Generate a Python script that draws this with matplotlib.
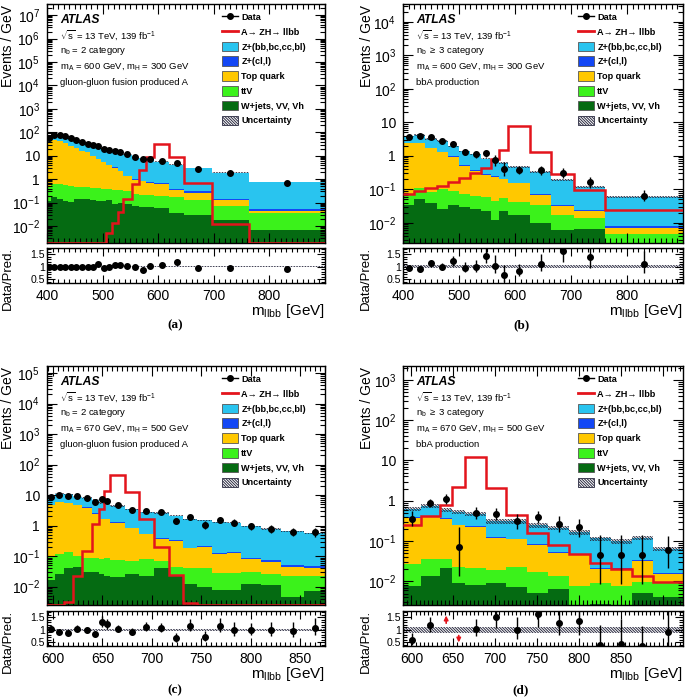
import numpy as np
import matplotlib
matplotlib.use("Agg")
import matplotlib.pyplot as plt
from matplotlib.ticker import LogLocator, NullFormatter, FuncFormatter, MultipleLocator, FixedLocator
from matplotlib.lines import Line2D
from matplotlib.patches import Patch

plt.rcParams['font.family'] = ['Liberation Sans', 'DejaVu Sans']
plt.rcParams['mathtext.fontset'] = 'custom'
plt.rcParams['mathtext.rm'] = 'Liberation Sans'
plt.rcParams['mathtext.it'] = 'Liberation Sans:italic'
plt.rcParams['mathtext.bf'] = 'Liberation Sans:bold'
plt.rcParams['hatch.linewidth'] = 0.7

# ---------------- data: panel (a) ----------------
a_edges = [400, 408, 418, 428, 438, 448, 458, 468, 478, 488, 497, 507, 517, 527, 537, 552, 566, 578, 593, 620, 647, 696, 764, 900]
a_data = [56, 80, 78, 70, 58, 47, 38, 32, 29, 27, 19, 17, 16, 14, 11.5, 9.2, 7.0, 7.0, 6.0, 5.0, 2.8, 1.8, 0.70]
a_wjets = [0.12, 0.17, 0.15, 0.12, 0.11, 0.14, 0.15, 0.14, 0.13, 0.12, 0.12, 0.13, 0.09, 0.10, 0.085, 0.07, 0.065, 0.065, 0.06, 0.035, 0.03, 0.018, 0.0065]
a_ttv = [0.38, 0.45, 0.45, 0.43, 0.39, 0.33, 0.31, 0.31, 0.31, 0.30, 0.28, 0.25, 0.27, 0.24, 0.215, 0.17, 0.155, 0.145, 0.14, 0.145, 0.10, 0.052, 0.028]
a_top = [37.5, 44.4, 40.4, 33.5, 26.5, 20.5, 16.0, 13.5, 9.0, 6.8, 5.1, 3.5, 2.7, 1.9, 1.05, 0.73, 0.60, 0.48, 0.42, 0.17, 0.14, 0.06, 0.011]
a_zl = [0.5, 0.6, 0.6, 0.5, 0.45, 0.4, 0.35, 0.3, 0.25, 0.22, 0.2, 0.16, 0.14, 0.11, 0.09, 0.07, 0.06, 0.06, 0.07, 0.05, 0.04, 0.02, 0.009]
a_zhf = [18.5, 34.4, 36.4, 35.5, 31.0, 26.6, 22.0, 18.3, 19.3, 16.6, 14.7, 13.4, 11.9, 10.8, 9.8, 8.2, 7.2, 6.0, 4.9, 3.8, 2.7, 1.75, 0.70]
a_signal = [0, 0, 0, 0, 0, 0, 0, 0, 0, 0, 0, 0.005, 0.013, 0.04, 0.14, 0.6, 2.5, 9.0, 33, 9.3, 0.7, 0.012, 0]
a_unc = 0.03
a_xlabels = [400, 500, 600, 700, 800]

# ---------------- data: panel (b) ----------------
b_edges = [400, 420, 440, 460, 480, 500, 520, 540, 557, 572, 587, 627, 665, 706, 761, 900]
b_data = [3.6, 3.8, 3.6, 2.8, 2.3, 1.3, 1.1, 1.2, 0.73, 0.40, 0.38, 0.37, 0.31, 0.16, 0.065]
b_wjets = [0.035, 0.05, 0.04, 0.026, 0.035, 0.03, 0.026, 0.022, 0.012, 0.022, 0.017, 0.01, 0.006, 0.0065, 0.001]
b_ttv = [0.04, 0.06, 0.045, 0.074, 0.055, 0.045, 0.039, 0.036, 0.033, 0.033, 0.026, 0.023, 0.011, 0.0075, 0.0035]
b_top = [2.33, 2.29, 1.6, 1.2, 0.86, 0.43, 0.285, 0.21, 0.195, 0.145, 0.107, 0.037, 0.014, 0.008, 0.0025]
b_zl = [0.05, 0.05, 0.04, 0.03, 0.02, 0.015, 0.015, 0.01, 0.008, 0.007, 0.005, 0.004, 0.002, 0.0015, 0.0008]
b_zhf = [1.35, 1.75, 1.46, 1.47, 0.93, 0.835, 0.735, 0.55, 0.45, 0.39, 0.305, 0.256, 0.157, 0.0915, 0.050]
b_signal = [0.075, 0.087, 0.11, 0.13, 0.17, 0.215, 0.30, 0.44, 0.78, 1.5, 7.8, 1.28, 0.28, 0.095, 0.0245]
b_unc = 0.06
b_xlabels = [400, 500, 600, 700, 800]

# ---------------- data: panel (c) ----------------
c_edges = [594, 602, 611, 620, 629, 639, 647, 652, 658, 673, 687, 702, 717, 731, 746, 761, 776, 790, 810, 831, 854, 875]
c_data = [8.8, 10, 9.3, 9.3, 7.8, 5.8, 7.2, 6.3, 4.6, 3.2, 3.0, 2.8, 1.42, 1.86, 1.06, 1.5, 1.24, 0.95, 0.78, 0.63, 0.6]
c_wjets = [0.017, 0.025, 0.04, 0.045, 0.03, 0.03, 0.025, 0.022, 0.02, 0.025, 0.022, 0.042, 0.022, 0.012, 0.01, 0.008, 0.008, 0.012, 0.011, 0.0045, 0.007]
c_ttv = [0.083, 0.095, 0.1, 0.055, 0.06, 0.055, 0.055, 0.063, 0.055, 0.045, 0.058, 0.028, 0.023, 0.028, 0.03, 0.02, 0.02, 0.018, 0.014, 0.0175, 0.015]
c_top = [4.7, 5.7, 5.4, 4.7, 3.8, 2.37, 1.52, 1.5, 1.17, 0.76, 0.44, 0.3, 0.275, 0.14, 0.16, 0.087, 0.097, 0.049, 0.041, 0.023, 0.019]
c_zl = [0.1, 0.1, 0.09, 0.08, 0.07, 0.05, 0.04, 0.04, 0.03, 0.025, 0.02, 0.015, 0.012, 0.01, 0.012, 0.009, 0.008, 0.009, 0.008, 0.007, 0.007]
c_zhf = [3.6, 5.1, 5.1, 4.0, 4.0, 4.6, 3.86, 3.56, 3.13, 2.6, 2.16, 2.2, 1.77, 1.41, 1.29, 1.16, 1.11, 0.86, 0.71, 0.60, 0.51]
c_signal = [0, 0, 0.0032, 0.022, 0.15, 1.1, 3.6, 13.5, 46, 13, 1.65, 0.2, 0.024, 0.003, 0, 0, 0, 0, 0, 0, 0]
c_unc = 0.05
c_xlabels = [600, 650, 700, 750, 800, 850]

# ---------------- data: panel (d) ----------------
d_edges = [590, 611, 634, 649, 664, 689, 713, 738, 763, 788, 813, 838, 863, 888, 924]
d_data = [0.36, 0.88, 1.1, 0.072, 0.5, 0.47, 0.31, 0.4, 0.27, 0.22, 0.044, 0.044, 0.044, 0.059]
d_wjets = [0.0075, 0.014, 0.021, 0.0093, 0.008, 0.0093, 0.0073, 0.0053, 0.0066, 0.002, 0.0028, 0.002, 0.0052, 0.0042]
d_ttv = [0.0195, 0.022, 0.015, 0.0137, 0.013, 0.0097, 0.0157, 0.0117, 0.0074, 0.0059, 0.0065, 0.0059, 0.0045, 0.0051]
d_top = [0.353, 0.384, 0.324, 0.227, 0.209, 0.101, 0.087, 0.063, 0.036, 0.037, 0.0107, 0.0121, 0.0223, 0.0057]
d_zl = [0.01, 0.01, 0.008, 0.006, 0.006, 0.004, 0.004, 0.003, 0.003, 0.002, 0.002, 0.002, 0.002, 0.001]
d_zhf = [0.23, 0.32, 0.232, 0.264, 0.244, 0.186, 0.196, 0.162, 0.162, 0.118, 0.094, 0.076, 0.086, 0.049]
d_signal = [0.25, 0.43, 0.8, 2.15, 12.5, 2.05, 0.44, 0.16, 0.08, 0.047, 0.029, 0.02, 0.0135, 0.0098]
d_unc = 0.12
d_xlabels = [600, 650, 700, 750, 800, 850]

# ---------------- labels ----------------
leg_labels = ["Data", "A\u2192 ZH\u2192 llbb", "Z+(bb,bc,cc,bl)", "Z+(cl,l)", "Top quark", "ttV",
              "W+jets, VV, Vh", "Uncertainty"]
sqrt_s = r"$\sqrt{\mathrm{s}}$ = 13 TeV, 139 fb$^{-1}$"
a_info = [sqrt_s, r"n$_{\mathrm{b}}$ = 2 category", r"m$_{\mathrm{A}}$ = 600 GeV, m$_{\mathrm{H}}$ = 300 GeV",
          "gluon-gluon fusion produced A"]
b_info = [sqrt_s, r"n$_{\mathrm{b}}$ $\geq$ 3 category", r"m$_{\mathrm{A}}$ = 600 GeV, m$_{\mathrm{H}}$ = 300 GeV",
          "bbA production"]
c_info = [sqrt_s, r"n$_{\mathrm{b}}$ = 2 category", r"m$_{\mathrm{A}}$ = 670 GeV, m$_{\mathrm{H}}$ = 500 GeV",
          "gluon-gluon fusion produced A"]
d_info = [sqrt_s, r"n$_{\mathrm{b}}$ $\geq$ 3 category", r"m$_{\mathrm{A}}$ = 670 GeV, m$_{\mathrm{H}}$ = 500 GeV",
          "bbA production"]

# ---------------- style ----------------
C_ZHF = '#29C4EF'
C_ZL = '#1347F5'
C_TOP = '#FFC800'
C_TTV = '#3BF21B'
C_WJ = '#056B12'
C_SIG = '#E3141C'
C_HATCH = '#2a2a40'
HATCH = '\\' * 12
W, H = 685, 698
R_LIM = (0.35, 1.75)

fig = plt.figure(figsize=(W / 100, H / 100), dpi=100)
fig.patch.set_facecolor('white')


def poisson_err(n):
    n = np.asarray(n, float)
    ns = np.maximum(n, 1e-9)
    hi = np.sqrt(n + 0.75) + 1.0
    lo = np.where(n > 0, n - n * (1 - 1 / (9 * ns) - 1 / (3 * np.sqrt(ns))) ** 3, 0.0)
    return lo, hi


def logfmt(v, pos):
    e = int(round(np.log10(v)))
    if e == 0:
        return '1'
    if e == 1:
        return '10'
    return r'$10^{%d}$' % e


def draw_panel(edges, data, wjets, ttv, top, zl, zhf, signal, unc, xlim, ylim, xmaj, xmin_, xlabels,
               box, info, leg_x, tag, tag_xy, ylab_x):
    left, right, ytop, ybot, rtop, rbot = box
    ax = fig.add_axes([left / W, 1 - ybot / H, (right - left) / W, (ybot - ytop) / H])
    rax = fig.add_axes([left / W, 1 - rbot / H, (right - left) / W, (rbot - rtop) / H])
    edges = np.asarray(edges, float)
    nb = len(edges) - 1
    base = np.full(nb, 1e-9)
    for vals, col in [(wjets, C_WJ), (ttv, C_TTV), (top, C_TOP), (zl, C_ZL), (zhf, C_ZHF)]:
        t = base + np.asarray(vals, float)
        ax.stairs(t, edges, baseline=base, fill=True, color=col, lw=0)
        base = t
    total = base
    ax.stairs(total * (1 + unc), edges, baseline=total * (1 - unc), fill=True,
              facecolor='none', edgecolor=C_HATCH, hatch=HATCH, lw=0)
    ax.stairs(np.clip(np.asarray(signal, float), ylim[0], None), edges, baseline=None,
              color=C_SIG, lw=1.8, zorder=4)
    centers = 0.5 * (edges[1:] + edges[:-1])
    widths = np.diff(edges)
    data = np.asarray(data, float)
    lo, hi = poisson_err(data * widths)
    ax.errorbar(centers, data, yerr=[lo / widths, hi / widths], fmt='o', color='black', ms=4,
                elinewidth=1, capsize=0, zorder=6)
    ax.set_yscale('log')
    ax.set_xlim(*xlim)
    ax.set_ylim(*ylim)
    ax.yaxis.set_major_locator(LogLocator(base=10, numticks=40))
    ax.yaxis.set_minor_locator(LogLocator(base=10, subs=np.arange(2, 10) * 1.0, numticks=40))
    ax.yaxis.set_minor_formatter(NullFormatter())
    ax.yaxis.set_major_formatter(FuncFormatter(logfmt))
    for a in (ax, rax):
        a.xaxis.set_major_locator(MultipleLocator(xmaj))
        a.xaxis.set_minor_locator(MultipleLocator(xmin_))
        a.tick_params(which='both', direction='in', top=True, right=True, width=0.8)
        for s in a.spines.values():
            s.set_linewidth(1.0)
    ax.tick_params(which='major', length=7)
    ax.tick_params(which='minor', length=3.5)
    ax.tick_params(axis='y', labelsize=10, pad=5)
    ax.tick_params(axis='x', labelbottom=False)

    # ratio panel
    ratio = data / total
    rlo = lo / widths / total
    rhi = hi / widths / total
    rax.stairs(np.full(nb, 1 + unc), edges, baseline=np.full(nb, 1 - unc), fill=True,
               facecolor='none', edgecolor=C_HATCH, hatch=HATCH, lw=0)
    inside = (ratio >= R_LIM[0]) & (ratio <= R_LIM[1])
    rax.errorbar(centers[inside], ratio[inside], yerr=[rlo[inside], rhi[inside]], fmt='o',
                 color='black', ms=4, elinewidth=1, capsize=0, zorder=6)
    for xc, r in zip(centers[~inside], ratio[~inside]):
        if r > R_LIM[1]:
            rax.annotate('', xy=(xc, 1.68), xytext=(xc, 1.15),
                         arrowprops=dict(arrowstyle='-|>', color=C_SIG, lw=1.2, mutation_scale=6))
        else:
            rax.annotate('', xy=(xc, 0.38), xytext=(xc, 0.88),
                         arrowprops=dict(arrowstyle='-|>', color=C_SIG, lw=1.2, mutation_scale=6))
    rax.set_xlim(*xlim)
    rax.set_ylim(*R_LIM)
    rax.yaxis.set_major_locator(FixedLocator([0.5, 1.0, 1.5]))
    rax.yaxis.set_minor_locator(MultipleLocator(0.1))
    rax.yaxis.set_major_formatter(FuncFormatter(lambda v, p: '%g' % v))
    rax.xaxis.set_major_formatter(FuncFormatter(lambda v, p: '%d' % v if round(v) in xlabels else ''))
    rax.tick_params(which='major', length=6)
    rax.tick_params(which='minor', length=3)
    rax.tick_params(axis='y', labelsize=7.6, pad=1.5)
    rax.tick_params(axis='x', labelsize=10, pad=4)

    # legend
    handles = [Line2D([0], [0], color='black', marker='o', ms=4, lw=1),
               Line2D([0], [0], color=C_SIG, lw=2),
               Patch(facecolor=C_ZHF, edgecolor='#555555', lw=0.6),
               Patch(facecolor=C_ZL, edgecolor='#555555', lw=0.6),
               Patch(facecolor=C_TOP, edgecolor='#555555', lw=0.6),
               Patch(facecolor=C_TTV, edgecolor='#555555', lw=0.6),
               Patch(facecolor=C_WJ, edgecolor='#555555', lw=0.6),
               Patch(facecolor='white', edgecolor=C_HATCH, hatch=HATCH, lw=0.6)]
    ax.legend(handles, leg_labels, loc='upper left', bbox_to_anchor=(leg_x / W, 1 - (ytop + 8) / H),
              bbox_transform=fig.transFigure, frameon=False,
              prop=dict(weight='bold', size=6.6), handlelength=1.75, handleheight=1.25,
              handletextpad=0.35, labelspacing=0.53, borderpad=0, borderaxespad=0)

    # texts
    tx = left + 13
    fig.text(tx / W, 1 - (ytop + 16) / H, 'ATLAS', fontsize=8.7, fontweight='bold', fontstyle='italic',
             ha='left', va='center')
    for i, s in enumerate(info):
        fig.text(tx / W, 1 - (ytop + 31 + 15.8 * i) / H, s, fontsize=6.8, ha='left', va='center')
    fig.text(ylab_x / W, 1 - (ytop + 1) / H, 'Events / GeV', rotation=90, fontsize=10, ha='center', va='top')
    fig.text((ylab_x - 1) / W, 1 - (rtop - 1) / H, 'Data/Pred.', rotation=90, fontsize=9.5, ha='center', va='top')
    fig.text(right / W, 1 - (rbot + 28) / H, r'm$_{\mathrm{llbb}}$ [GeV]', fontsize=11, ha='right', va='center')
    fig.text(tag_xy[0] / W, 1 - tag_xy[1] / H, tag, fontsize=9.5, fontweight='bold',
             family='Liberation Serif', ha='center', va='center')


draw_panel(a_edges, a_data, a_wjets, a_ttv, a_top, a_zl, a_zhf, a_signal, a_unc, (400, 900), (1.9e-3, 3e7),
           100, 10, a_xlabels, (47, 325, 4, 243, 248, 283), a_info, 222, '(a)', (175, 325), 8.5)
draw_panel(b_edges, b_data, b_wjets, b_ttv, b_top, b_zl, b_zhf, b_signal, b_unc, (400, 900), (2.5e-3, 3.4e4),
           100, 10, b_xlabels, (403, 683, 4, 243, 248, 283), b_info, 578, '(b)', (521, 325), 367)
draw_panel(c_edges, c_data, c_wjets, c_ttv, c_top, c_zl, c_zhf, c_signal, c_unc, (594, 875), (2.5e-3, 1.7e5),
           50, 5, c_xlabels, (47, 325, 366, 605, 611, 646), c_info, 222, '(c)', (175, 690), 8.5)
draw_panel(d_edges, d_data, d_wjets, d_ttv, d_top, d_zl, d_zhf, d_signal, d_unc, (590, 924), (2.6e-3, 2.2e3),
           50, 5, d_xlabels, (403, 683, 366, 605, 611, 646), d_info, 578, '(d)', (521, 690), 367)

fig.savefig('out.png', dpi=100)
